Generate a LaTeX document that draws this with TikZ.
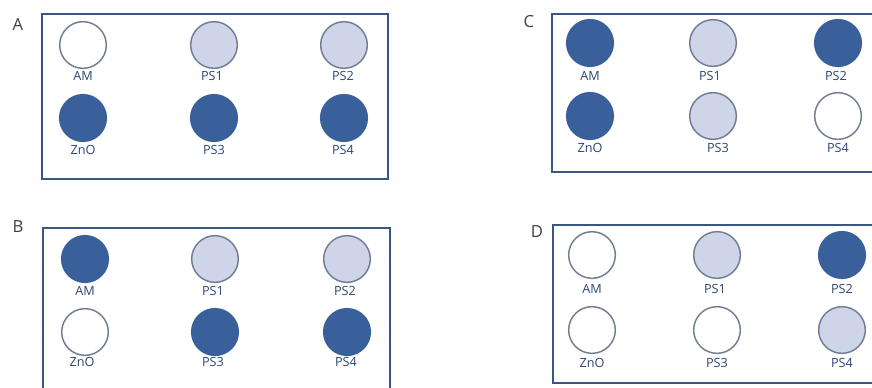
\documentclass[tikz,border=0pt]{standalone}
\usepackage{fontspec}
\setmainfont{Open Sans}
\definecolor{dk}{RGB}{58,96,156}
\definecolor{lt}{RGB}{206,213,233}
\definecolor{rim}{RGB}{115,125,148}
\definecolor{frame}{RGB}{58,86,132}
\definecolor{txt}{RGB}{45,70,115}
\tikzset{
  spot/.style={circle,minimum size=35,inner sep=0pt,draw=rim,line width=1.1},
  full/.style={spot,fill=dk,draw=dk},
  half/.style={spot,fill=lt},
  none/.style={spot,fill=white},
  tag/.style={font=\fontsize{9.5}{11}\selectfont,text=txt,inner sep=0pt},
  panel/.style={draw=frame,line width=2.2},
  letter/.style={font=\fontsize{12.5}{14}\selectfont,text=black!75,inner sep=0pt}
}
\begin{document}
\begin{tikzpicture}[x=0.75pt,y=-0.75pt]
\useasboundingbox[fill=white] (0,0) rectangle (872,387);
% Panel A
\node[letter] (LA) at (18,25) {A};
\draw[panel] (42,14) rectangle (388,179);
\node[none] (A1) at (83,45) {};
\node[half] (A2) at (214,45) {};
\node[half] (A3) at (344,45) {};
\node[full] (A4) at (83,118) {};
\node[full] (A5) at (214,118) {};
\node[full] (A6) at (344,118) {};
\node[tag] (tA1) at (83,76) {AM};
\node[tag] (tA2) at (212,76) {PS1};
\node[tag] (tA3) at (343,76) {PS2};
\node[tag] (tA4) at (83,150) {ZnO};
\node[tag] (tA5) at (214,150) {PS3};
\node[tag] (tA6) at (343,150) {PS4};
% Panel B
\node[letter] (LB) at (18,227) {B};
\draw[panel] (43,228) rectangle (390,395);
\node[full] (B1) at (85,259) {};
\node[half] (B2) at (215,259) {};
\node[half] (B3) at (347,259) {};
\node[none] (B4) at (85,332) {};
\node[full] (B5) at (215,332) {};
\node[full] (B6) at (347,332) {};
\node[tag] (tB1) at (85,291) {AM};
\node[tag] (tB2) at (213,291) {PS1};
\node[tag] (tB3) at (345,291) {PS2};
\node[tag] (tB4) at (82,362) {ZnO};
\node[tag] (tB5) at (213,362) {PS3};
\node[tag] (tB6) at (346,362) {PS4};
% Panel C
\node[letter] (LC) at (529,22) {C};
\draw[panel] (552,14) rectangle (880,172);
\node[full] (C1) at (590,43) {};
\node[half] (C2) at (713,43) {};
\node[full] (C3) at (838,43) {};
\node[full] (C4) at (590,116) {};
\node[half] (C5) at (713,116) {};
\node[none] (C6) at (838,116) {};
\node[tag] (tC1) at (590,76) {AM};
\node[tag] (tC2) at (710,76) {PS1};
\node[tag] (tC3) at (836,76) {PS2};
\node[tag] (tC4) at (590,148) {ZnO};
\node[tag] (tC5) at (718,148) {PS3};
\node[tag] (tC6) at (838,148) {PS4};
% Panel D
\node[letter] (LD) at (537,232) {D};
\draw[panel] (553,225) rectangle (880,383);
\node[none] (D1) at (592,255) {};
\node[half] (D2) at (717,255) {};
\node[full] (D3) at (842,255) {};
\node[none] (D4) at (592,330) {};
\node[none] (D5) at (717,330) {};
\node[half] (D6) at (842,330) {};
\node[tag] (tD1) at (592,289) {AM};
\node[tag] (tD2) at (715,289) {PS1};
\node[tag] (tD3) at (842,289) {PS2};
\node[tag] (tD4) at (592,363) {ZnO};
\node[tag] (tD5) at (717,363) {PS3};
\node[tag] (tD6) at (842,363) {PS4};
\end{tikzpicture}
\end{document}
